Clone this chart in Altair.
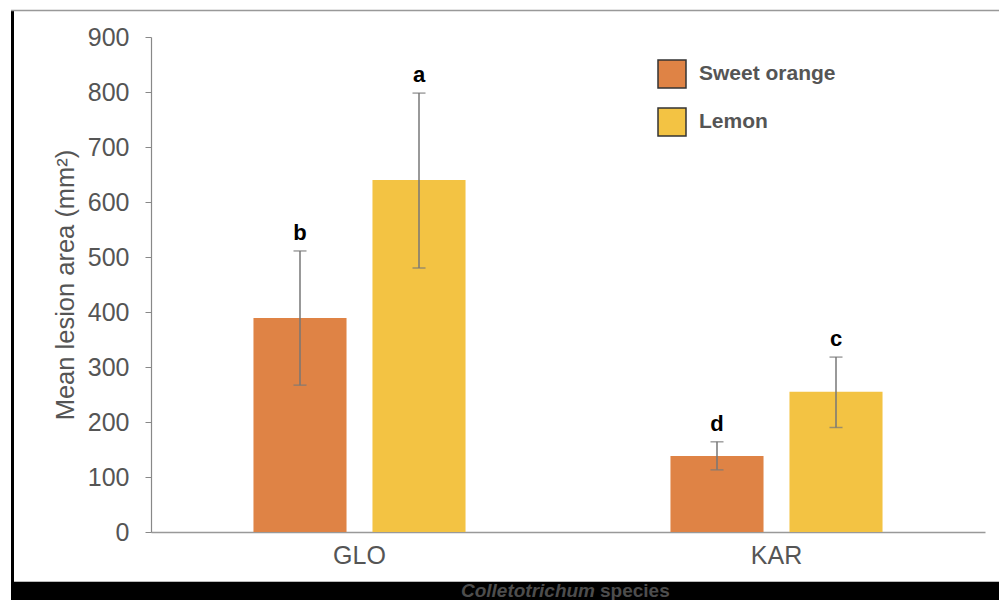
import altair as alt
import pandas as pd

species = ["GLO", "GLO", "KAR", "KAR"]
hosts = ["Sweet orange", "Lemon", "Sweet orange", "Lemon"]
mean_area = [389, 640, 138, 255]
err_low = [267, 480, 113, 190]
err_high = [511, 798, 164, 318]
letters = ["b", "a", "d", "c"]

species_order = ["GLO", "KAR"]
host_order = ["Sweet orange", "Lemon"]
host_colors = ["#DF8345", "#F3C343"]

df = pd.DataFrame({
    "species": species,
    "host": hosts,
    "mean": mean_area,
    "low": err_low,
    "high": err_high,
    "letter": letters,
})

FONT = "Liberation Sans"
YTITLE = "Mean lesion area (mm²)"

x_enc = alt.X(
    "species:N", sort=species_order,
    scale=alt.Scale(paddingInner=0, paddingOuter=0),
    axis=alt.Axis(title=None, ticks=False, labelAngle=0, labelFont=FONT,
                  labelFontSize=25, labelColor="#555", labelPadding=11,
                  domainColor="#999", domainWidth=1.5),
)
xo_enc = alt.XOffset("host:N", sort=host_order,
                     scale=alt.Scale(paddingInner=0.218, paddingOuter=0.861))

base = alt.Chart(df).encode(x=x_enc, xOffset=xo_enc)

yscale = alt.Scale(domain=[0, 900], nice=False)
yaxis = alt.Axis(title=YTITLE, values=list(range(0, 901, 100)), grid=False,
                 tickSize=6, tickColor="#888", domainColor="#888", domainWidth=1.2,
                 labelFont=FONT, labelFontSize=25, labelColor="#555", labelPadding=16,
                 titleFont=FONT, titleFontSize=25.5, titleFontWeight="normal",
                 titleColor="#555", titlePadding=9)

bars = base.mark_bar().encode(
    y=alt.Y("mean:Q", scale=yscale, axis=yaxis, title=YTITLE),
    color=alt.Color("host:N", sort=host_order,
                    scale=alt.Scale(domain=host_order, range=host_colors),
                    legend=alt.Legend(title=None)),
)

rules = base.mark_rule(color="#777", strokeWidth=1.5).encode(
    y=alt.Y("low:Q", scale=yscale, title=YTITLE), y2="high:Q")
cap_hi = base.mark_tick(color="#777", thickness=1.5, size=13).encode(
    y=alt.Y("high:Q", scale=yscale, title=YTITLE))
cap_lo = base.mark_tick(color="#777", thickness=1.5, size=13).encode(
    y=alt.Y("low:Q", scale=yscale, title=YTITLE))
lettr = base.mark_text(dy=-11, baseline="alphabetic", fontSize=22,
                       fontWeight="bold", color="black", font=FONT).encode(
    y=alt.Y("high:Q", scale=yscale, title=YTITLE), text="letter:N")

one = pd.DataFrame({"k": [0]})
deco = alt.Chart(one)
band = deco.mark_rect(color="black").encode(
    x=alt.value(-140), x2=alt.value(848), y=alt.value(545), y2=alt.value(563))
left_border = deco.mark_rect(color="black").encode(
    x=alt.value(-140), x2=alt.value(-137), y=alt.value(-27), y2=alt.value(563))
top_line = deco.mark_rule(color="#999", strokeWidth=1.5).encode(
    x=alt.value(-140), x2=alt.value(848), y=alt.value(-26.5))
bottom_line = deco.mark_rule(color="#bbb", strokeWidth=1).encode(
    x=alt.value(-140), x2=alt.value(848), y=alt.value(544.5))
t1 = deco.mark_text(text="Colletotrichum", font=FONT, fontSize=19,
                    fontStyle="italic", fontWeight="bold", color="#4d4d4d",
                    align="right", baseline="alphabetic").encode(
    x=alt.value(444), y=alt.value(560))
t2 = deco.mark_text(text="species", font=FONT, fontSize=19,
                    fontWeight="bold", color="#4d4d4d",
                    align="left", baseline="alphabetic").encode(
    x=alt.value(449), y=alt.value(560))

chart = alt.layer(
    band, bottom_line, left_border, top_line, t1, t2,
    bars, rules, cap_hi, cap_lo, lettr,
).properties(
    width=834, height=495,
    padding={"left": 143, "top": 29, "right": 14, "bottom": 68},
    autosize=alt.AutoSizeParams(type="none"),
    background="white",
).configure_view(stroke=None).configure_legend(
    orient="none", legendX=506, legendY=22, padding=0,
    symbolType="square", symbolSize=784, symbolStrokeColor="#333",
    symbolStrokeWidth=1.5, symbolOpacity=1,
    labelFont=FONT, labelFontSize=21, labelFontWeight="bold", labelColor="#555",
    labelOffset=12, rowPadding=14,
)

chart.save("out.html", embed_options={"renderer": "svg", "actions": False})
